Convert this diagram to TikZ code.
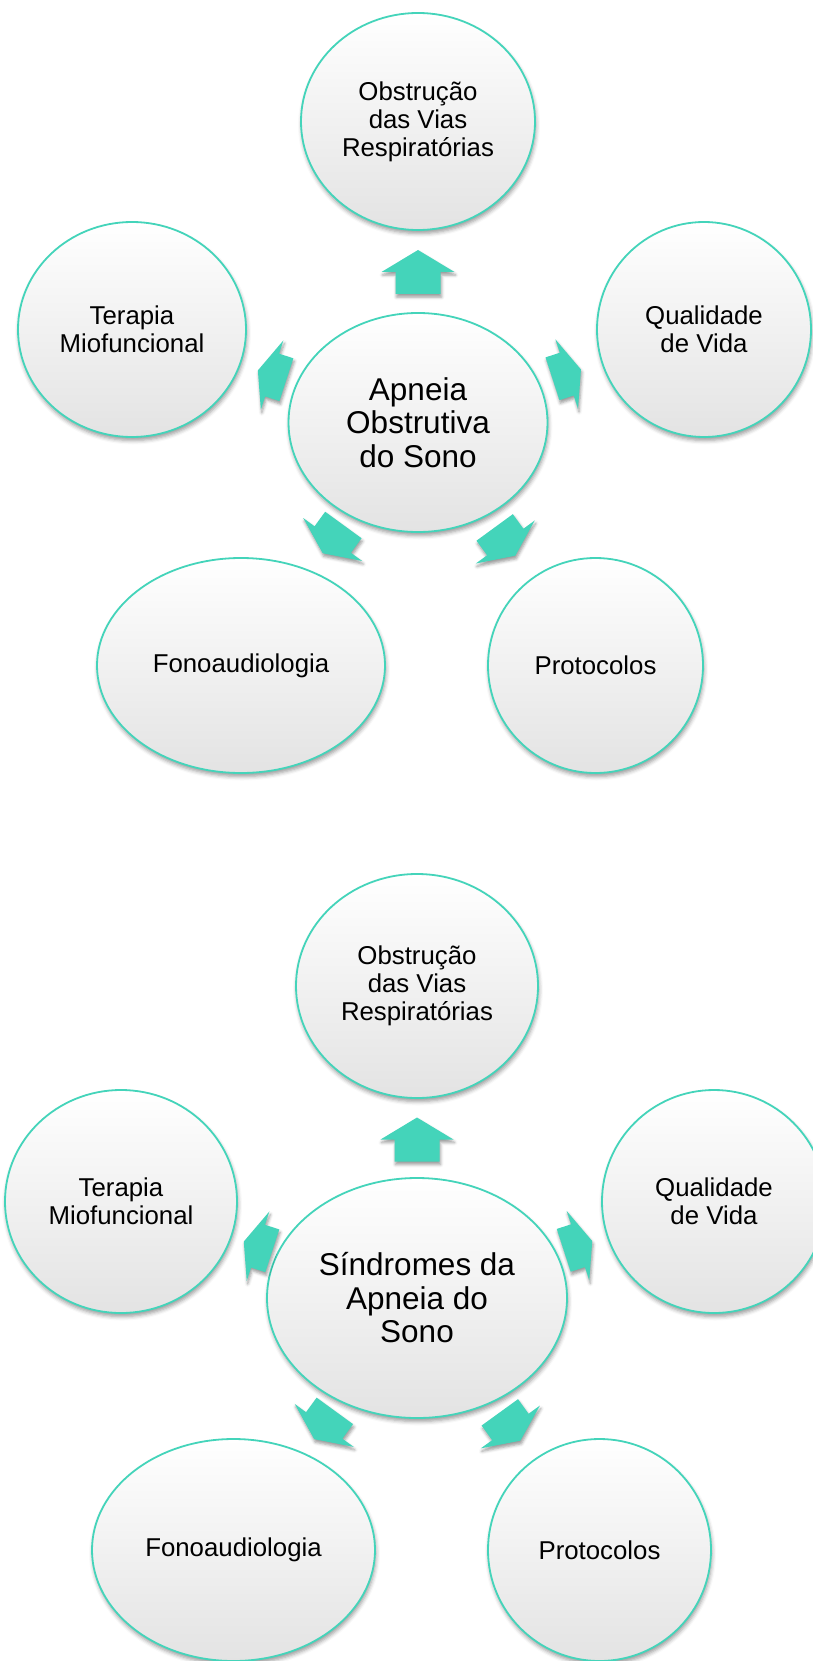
\documentclass[tikz,border=0pt]{standalone}
\usepackage{fontspec}
\setmainfont{Liberation Sans}
\usetikzlibrary{shapes.geometric,shadows.blur,calc}
\definecolor{turq}{HTML}{44D4BA}
\definecolor{shadeg}{HTML}{E3E3E3}
\tikzset{
  bubble/.style={ellipse, draw=turq, line width=1.8pt, inner sep=0pt, align=center,
    top color=white, middle color=white, bottom color=shadeg,
    blur shadow={shadow xshift=1pt, shadow yshift=-3.5pt, shadow blur radius=4pt, shadow opacity=40},
    font=\fontsize{25.8}{28}\selectfont},
  hub/.style={bubble, font=\fontsize{31.5}{33.5}\selectfont},
  arrowfill/.style={fill=turq,
    blur shadow={shadow xshift=1pt, shadow yshift=-3pt, shadow blur radius=3pt, shadow opacity=40}},
  pics/blockarrow/.style 2 args={code={
    \path[arrowfill] (-#1/2,-22.5) -- (#1/2-#2,-22.5) -- (#1/2-#2,-36.5) -- (#1/2,0)
      -- (#1/2-#2,36.5) -- (#1/2-#2,22.5) -- (-#1/2,22.5) -- cycle;
  }}
}
\begin{document}
\begin{tikzpicture}[x=1pt,y=1pt]
\useasboundingbox (0,0) rectangle (812,-1661);
% top diagram
\node[bubble, minimum width=234, minimum height=217] (o1) at (418,-121.5) {Obstrução\\das Vias\\Respiratórias};
\node[bubble, minimum width=228, minimum height=215] (t1) at (132,-329.5) {Terapia\\Miofuncional};
\node[bubble, minimum width=214, minimum height=215] (q1) at (704,-329.5) {Qualidade\\de Vida};
\node[bubble, minimum width=288, minimum height=215] (f1) at (241,-665.5) {Fonoaudiologia};
\node[bubble, minimum width=215, minimum height=215] (p1) at (595.5,-665.5) {Protocolos};
\node[hub, minimum width=259, minimum height=219] (c1) at (418,-422.5) {Apneia\\Obstrutiva\\do Sono};
% bottom diagram
\node[bubble, minimum width=242, minimum height=224] (o2) at (417,-986) {Obstrução\\das Vias\\Respiratórias};
\node[bubble, minimum width=232, minimum height=223] (t2) at (121,-1201.5) {Terapia\\Miofuncional};
\node[bubble, minimum width=224, minimum height=223] (q2) at (714,-1201.5) {Qualidade\\de Vida};
\node[bubble, minimum width=283, minimum height=222] (f2) at (233.5,-1550) {Fonoaudiologia};
\node[bubble, minimum width=223, minimum height=222] (p2) at (599.5,-1550) {Protocolos};
\node[hub, minimum width=300, minimum height=240] (c2) at (417,-1298) {Síndromes da\\Apneia do\\Sono};
% block arrows
\foreach \c/\s/\t/\L/\H in {c1/o1/0.5/44/22, c1/t1/0.51/30/15, c1/q1/0.52/30/15, c1/f1/0.48/35/17, c1/p1/0.49/35/17,
  c2/o2/0.508/44/22, c2/t2/0.537/30/15, c2/q2/0.542/30/15, c2/f2/0.504/35/17, c2/p2/0.51/35/17}
  \path let \p1=($(\s)-(\c)$), \n1={atan2(\y1,\x1)} in ($(\c)!\t!(\s)$) pic[rotate=\n1]{blockarrow={\L}{\H}};
\end{tikzpicture}
\end{document}
